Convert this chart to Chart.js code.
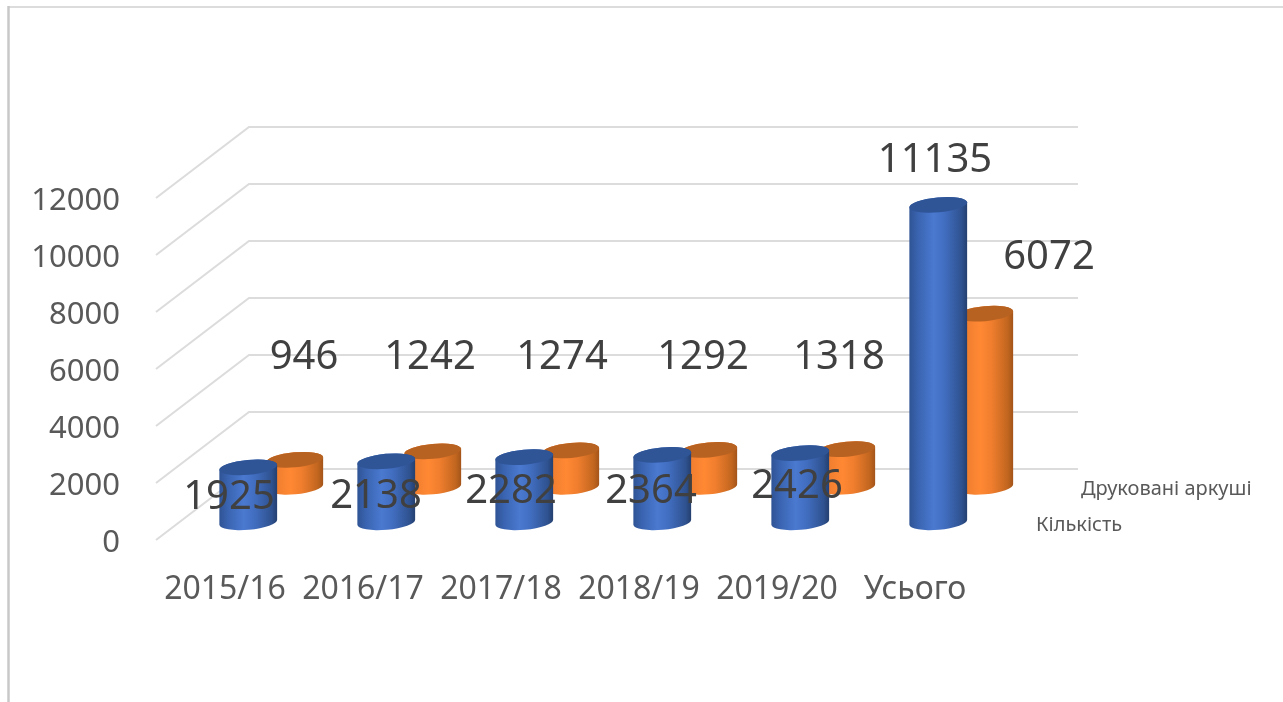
<!DOCTYPE html>
<html lang="uk">
<head>
<meta charset="utf-8">
<title>Кількість і друковані аркуші</title>
<script src="https://cdn.jsdelivr.net/npm/chart.js@4/dist/chart.umd.min.js"></script>
<style>
html,body{margin:0;padding:0;background:#fff;overflow:hidden}
#wrap{width:1283px;height:702px;position:relative}
canvas{display:block;filter:blur(0.45px)}
</style>
</head>
<body>
<div id="wrap"><canvas id="c" width="1283" height="702"></canvas></div>
<script>
const categories = ['2015/16','2016/17','2017/18','2018/19','2019/20','Усього'];
const kilkist = [1925,2138,2282,2364,2426,11135];
const arkushi = [946,1242,1274,1292,1318,6072];
const seriesNames = ['Кількість','Друковані аркуші'];

const FONT = '"Noto Sans","Open Sans",sans-serif';
const depth = {dx:93, dy:71, right:1078};
const looks = [
  {frac:.25, stops:['#2f5394','#3a64b0','#4a79d0','#416dbf','#2f5290','#253f6f'], top:'#2f5597', nameX:1036, nameY:525,
   labels:[[229,498],[376,497],[511,492],[651,492],[797,487],[935,161]]},
  {frac:.75, stops:['#c86c24','#ee7d2f','#ff8833','#f07e2e','#c2661f','#a3541a'], top:'#b86222', nameX:1081, nameY:489,
   labels:[[304,358],[430,358],[562,358],[703,358],[839,358],[1049,258]]}
];
const tickNudge = 3;

const cylinders = {
  id:'cylinders',
  beforeDraw(chart){
    const {ctx} = chart;
    ctx.save();
    ctx.fillStyle='#fff'; ctx.fillRect(0,0,chart.width,chart.height);
    ctx.strokeStyle='#dcdcdc'; ctx.lineWidth=2;
    ctx.beginPath(); ctx.moveTo(8,7); ctx.lineTo(chart.width,7); ctx.stroke();
    ctx.strokeStyle='#c8c8c8'; ctx.lineWidth=2.5;
    ctx.beginPath(); ctx.moveTo(8.5,6); ctx.lineTo(8.5,chart.height); ctx.stroke();
    const y = chart.scales.y, left = chart.chartArea.left;
    ctx.strokeStyle='#dcdcdc'; ctx.lineWidth=2;
    y.ticks.forEach(t=>{
      const py = y.getPixelForValue(t.value);
      ctx.beginPath();
      ctx.moveTo(left,py);
      ctx.lineTo(left+depth.dx,py-depth.dy);
      ctx.lineTo(depth.right,py-depth.dy);
      ctx.stroke();
    });
    ctx.restore();
    y.getLabelItems(chart.chartArea).forEach(item=>{
      if(!item.nudged){ item.options.translation[1]+=tickNudge; item.nudged=true; }
    });
  },
  beforeDatasetDraw(chart,args){
    const {ctx} = chart;
    const look = looks[args.index];
    const rot = -0.09, ry = 7.5;
    const ox = depth.dx*look.frac, oy = depth.dy*look.frac;
    ctx.save();
    args.meta.data.forEach(el=>{
      const rx = el.width/2;
      const cx = el.x+ox, yt = el.y-oy, yb = el.base-oy;
      const g = ctx.createLinearGradient(cx-rx,0,cx+rx,0);
      [0,.15,.42,.62,.9,1].forEach((s,i)=>g.addColorStop(s,look.stops[i]));
      ctx.fillStyle=g;
      ctx.beginPath();
      ctx.ellipse(cx,yb,rx,ry,rot,0,Math.PI);
      ctx.ellipse(cx,yt,rx,ry,rot,Math.PI,Math.PI*2);
      ctx.closePath();
      ctx.fill();
      ctx.fillStyle=look.top;
      ctx.beginPath();
      ctx.ellipse(cx,yt,rx,ry,rot,0,Math.PI*2);
      ctx.fill();
    });
    ctx.restore();
    return false;
  },
  afterDatasetsDraw(chart){
    const {ctx} = chart;
    ctx.save();
    ctx.textAlign='center'; ctx.textBaseline='middle';
    ctx.fillStyle='#404040'; ctx.font='40px '+FONT;
    chart.data.datasets.forEach((ds,i)=>{
      ds.data.forEach((v,j)=>{
        const p = looks[i].labels[j];
        ctx.fillText(String(v),p[0],p[1]);
      });
    });
    ctx.textAlign='left'; ctx.fillStyle='#595959'; ctx.font='20px '+FONT;
    seriesNames.forEach((n,i)=>ctx.fillText(n,looks[i].nameX,looks[i].nameY));
    ctx.restore();
  }
};

new Chart(document.getElementById('c'),{
  type:'bar',
  plugins:[cylinders],
  data:{
    labels:categories,
    datasets:[
      {label:seriesNames[0],data:kilkist,backgroundColor:'#4472c4',barThickness:58,grouped:false},
      {label:seriesNames[1],data:arkushi,backgroundColor:'#ed7d31',barThickness:57,grouped:false}
    ]
  },
  options:{
    responsive:false,
    animation:false,
    layout:{padding:{top:198,right:299,left:0,bottom:0}},
    plugins:{legend:{display:false},tooltip:{enabled:false},title:{display:false}},
    scales:{
      x:{
        grid:{display:false},border:{display:false},
        afterFit(s){s.height=162;},
        ticks:{color:'#595959',font:{family:FONT,size:32},padding:23,maxRotation:0,autoSkip:false}
      },
      y:{
        min:0,max:12000,
        grid:{display:false},border:{display:false},
        afterFit(s){s.width=156;},
        ticks:{color:'#595959',font:{family:FONT,size:31},padding:28,stepSize:2000,callback:v=>String(v)}
      }
    }
  }
});
</script>
</body>
</html>
